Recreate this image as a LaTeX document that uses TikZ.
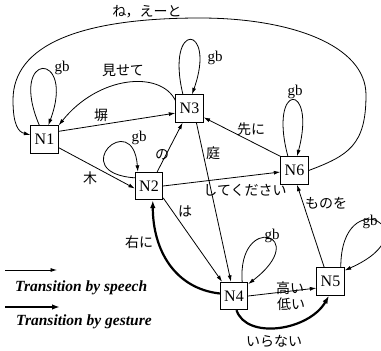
\documentclass[tikz,border=0pt]{standalone}
\usepackage{fontspec}
\setmainfont{Liberation Serif}
\newfontfamily\jp{Noto Sans CJK JP}
\usetikzlibrary{arrows.meta}
\tikzset{
  state/.style={draw,line width=0.8pt,minimum size=27.5pt,inner sep=0pt,font=\fontsize{16}{16}\selectfont},
  speech/.style={line width=0.8pt,-{Latex[length=6.5pt,width=4pt]}},
  gesture/.style={line width=2.2pt,-{Latex[length=8pt,width=5.5pt]}},
  jlab/.style={font=\jp\fontsize{14}{14}\selectfont,inner sep=0pt},
  gblab/.style={font=\fontsize{15}{15}\selectfont,inner sep=0pt},
  legend/.style={font=\bfseries\itshape\fontsize{15.5}{15.5}\selectfont,anchor=west,inner sep=0pt}
}
\begin{document}
\begin{tikzpicture}[x=1pt,y=-1pt]
  \useasboundingbox (0,0) rectangle (381,351);
  \clip (0,0) rectangle (381,351);
  % States
  \node[state] (n1) at (44.5,139.5) {N1};
  \node[state] (n2) at (149,186) {N2};
  \node[state] (n3) at (189.5,108.5) {N3};
  \node[state] (n4) at (234,296) {N4};
  \node[state] (n5) at (330.5,281.5) {N5};
  \node[state] (n6) at (294.5,170.5) {N6};

  % gb loops
  \draw[speech] (n1.110) .. controls +(-32,-75) and +(28,-75) .. (n1.75);
  \draw[speech] (n2.150) .. controls +(-70,-5) and +(-5,-65) .. ([xshift=3pt]n2.north west);
  \draw[speech] (n3.115) .. controls +(-18,-75) and +(25,-70) .. (n3.80);
  \draw[speech] (n6.115) .. controls +(-20,-75) and +(20,-75) .. (n6.80);
  \draw[speech] (n4.60) .. controls +(-5,-70) and +(65,-50) .. (n4.40);
  \draw[speech] (n5.54) .. controls +(0,-87) and +(90,-40) .. (n5.38);
  \node[gblab] (g1) at (62,68) {gb};
  \node[gblab] (g2) at (139,138) {gb};
  \node[gblab] (g3) at (215,58) {gb};
  \node[gblab] (g6) at (295,92) {gb};
  \node[gblab] (g4) at (272,236) {gb};
  \node[gblab] (g5) at (370,222) {gb};

  % speech transitions
  \draw[speech] (n1.30) -- (n3.198);
  \node[jlab] (l13) at (101,115) {塀};
  \draw[speech] (n3.150) .. controls +(-15,-30) and +(40,-50) .. (n1.north east);
  \node[jlab] (l31) at (123,70) {見せて};
  \draw[speech] (n1.-30) -- (n2.190);
  \node[jlab] (l12) at (90,178) {木};
  \draw[speech] (n2.60) -- (n3.-116);
  \node[jlab] (l23) at (162,155) {の};
  \draw[speech] (n3.-64) -- (n4.102);
  \node[jlab] (l34) at (213,153) {庭};
  \draw[speech] (n2.east) -- (n6.186);
  \node[jlab] (l26) at (245,190) {してください};
  \draw[speech] (n6.north west) -- (n3.-32);
  \node[jlab] (l63) at (251,129) {先に};
  \draw[speech] (n2.-40) -- (n4.130);
  \node[jlab] (l24) at (185,211) {は};
  \draw[speech] (n4.east) -- (n5.205);
  \node[jlab] (l45a) at (290,288) {高い};
  \node[jlab] (l45b) at (291,304) {低い};
  \draw[speech] (n5.114) -- (n6.-80);
  \node[jlab] (l56) at (326,203) {ものを};
  % the long one back to N1
  \draw[speech] (n6.east) .. controls +(40,-15) and +(0,50) .. (366,95)
    .. controls +(0,-50) and +(90,0) .. (200,18)
    .. controls +(-120,0) and +(0,-55) .. (13,100)
    .. controls +(0,25) and +(-12,-3) .. (n1.162);
  \node[jlab] (l61) at (147,12) {ね，えーと};

  % gesture transitions
  \draw[gesture] (n4.170) .. controls +(-45,-5) and +(0,50) .. (n2.-75);
  \node[jlab] (l42) at (139,242) {右に};
  \draw[gesture] (n4.-80) .. controls +(10,30) and +(-20,35) .. (n5.-96);
  \node[jlab] (l45c) at (274,341) {いらない};

  % legend
  \coordinate (sp0) at (5,270);
  \coordinate (sp1) at (57,270);
  \coordinate (ge0) at (5,307);
  \coordinate (ge1) at (60,307);
  \draw[speech] (sp0) -- (sp1);
  \draw[gesture] (ge0) -- (ge1);
  \node[legend] (tsp) at (15,288) {Transition by speech};
  \node[legend] (tge) at (16,322) {Transition by gesture};
\end{tikzpicture}
\end{document}
